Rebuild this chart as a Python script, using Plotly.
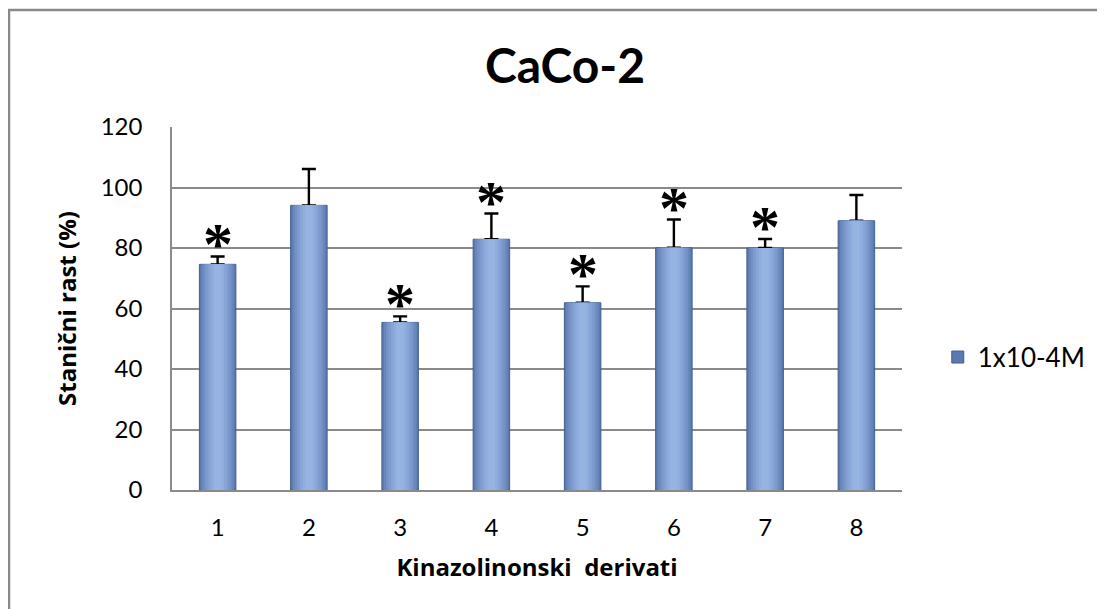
import plotly.graph_objects as go

categories = ["1", "2", "3", "4", "5", "6", "7", "8"]
values = [74.6, 94.1, 55.4, 82.9, 61.9, 80.1, 80.0, 89.0]
errors = [2.6, 12.0, 2.0, 8.5, 5.4, 9.3, 3.0, 8.5]
significant = [True, False, True, True, True, True, True, False]
series_name = "1x10-4M"
title_text = "CaCo-2"
x_title = "Kinazolinonski\u00a0 derivati"
y_title = "Stanični rast (%)"
y_ticks = [0, 20, 40, 60, 80, 100, 120]

FONT = "Lato"
AXT_FONT = "Open Sans"

# layered bars to imitate the Excel gradient shading
layers = [
    (0.40, "#5b79af"),
    (0.36, "#6886bb"),
    (0.31, "#7391c5"),
    (0.26, "#7d9bce"),
    (0.20, "#87a5d6"),
    (0.14, "#8fadde"),
    (0.08, "#96b3e2"),
]

fig = go.Figure()
for i, (w, c) in enumerate(layers):
    kw = {}
    if i == 0:
        kw["error_y"] = dict(type="data", array=errors, symmetric=False,
                             arrayminus=[0] * len(errors), color="black",
                             thickness=2.4, width=7)
    fig.add_trace(go.Bar(
        x=categories, y=values, width=w, name=series_name,
        marker=dict(color=c, line=dict(width=1 if i == 0 else 0, color="#44608f")),
        showlegend=(i == 0), hoverinfo="skip" if i else None, **kw))

annotations = []
for idx, (v, e, s) in enumerate(zip(values, errors, significant)):
    if s:
        annotations.append(dict(x=idx, y=v + e, xref="x", yref="y", text="<b>*</b>",
                                showarrow=False, yanchor="middle", yshift=12,
                                font=dict(family="Liberation Serif", size=60, color="black")))

# outer chart border (top and left edges visible)
shapes = [dict(type="rect", xref="paper", yref="paper", x0=-0.2233, x1=1.3, y0=-0.36, y1=1.3223,
               line=dict(color="#8a8a8a", width=2.5), fillcolor="rgba(0,0,0,0)", layer="below")]

# page has an 8px body margin: figure occupies page x 8..1105, y 8..609
fig.update_layout(
    width=1097, height=601,
    margin=dict(l=164, r=203, t=119, b=119),
    paper_bgcolor="white", plot_bgcolor="white",
    barmode="overlay",
    title=dict(text="<b>" + title_text + "</b>", x=557 / 1097, xref="container", xanchor="center",
               y=1 - 58 / 601, yref="container", yanchor="middle",
               font=dict(family=FONT, size=48, color="black")),
    xaxis=dict(type="category", range=[-0.5, 7.5], showgrid=False, showline=True,
               linecolor="#8a8a8a", linewidth=1.5, ticks="", ticklabelstandoff=15,
               tickfont=dict(family=FONT, size=24, color="black"),
               title=dict(text="<b>" + x_title + "</b>", standoff=20,
                          font=dict(family=AXT_FONT, size=24, color="black"))),
    yaxis=dict(range=[0, 120], tickvals=y_ticks, showgrid=True, gridcolor="#8a8a8a", gridwidth=1.5,
               showline=True, linecolor="#8a8a8a", linewidth=1.5, zeroline=False, ticks="",
               ticklabelstandoff=23, tickfont=dict(family=FONT, size=24, color="black"),
               title=dict(text="<b>" + y_title + "</b>", standoff=17,
                          font=dict(family=AXT_FONT, size=24, color="black"))),
    legend=dict(x=1.049, xanchor="left", y=0.366, yanchor="middle",
                font=dict(family=FONT, size=26, color="black"), bgcolor="rgba(0,0,0,0)",
                itemwidth=30),
    annotations=annotations,
    shapes=shapes,
    font=dict(family=FONT, color="black"),
)

fig.write_html("out.html")
